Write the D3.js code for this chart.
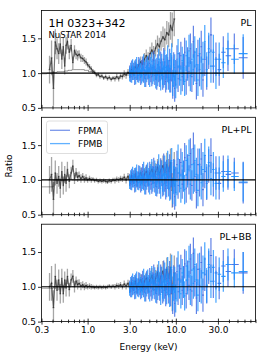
<!DOCTYPE html>
<html>
<head>
<meta charset="utf-8">
<script src="https://cdn.jsdelivr.net/npm/d3@7"></script>
<style>
  body { margin: 0; background: #fff; }
  svg { display: block; font-family: "DejaVu Sans", sans-serif; }
</style>
</head>
<body>
<div class="vis"></div>
<script>
(function() {
  'use strict';

  // panel labels and axis ticks
  var models = ['PL', 'PL+PL', 'PL+BB'];
  var xTicks = [0.3, 1, 3, 10, 30];
  var xTickLabels = ['0.3', '1.0', '3.0', '10.0', '30.0'];
  var xMinor = [0.4, 0.5, 0.6, 0.7, 0.8, 0.9, 2, 4, 5, 6, 7, 8, 9, 20, 40, 50, 60, 70, 80];
  var yTicks = [0.5, 1.0, 1.5];

  // soft X-ray thin trace
  var thinE = [0.3, 0.33, 0.36, 0.39, 0.43, 0.47, 0.52, 0.57, 0.63, 0.7, 0.78, 0.87, 0.97, 1.08, 1.2];
  var thinPL = [0.99, 0.99, 1.0, 1.0, 1.01, 1.02, 1.02, 1.03, 1.04, 1.05, 1.05, 1.05, 1.04, 1.02, 1.0];
  var thinPLPL = [0.9, 0.9, 0.9, 0.9, 1.0, 1.0, 0.99, 1.0, 1.01, 1.0, 1.0, 1.0, 1.0, 1.0, 1.0];
  var thinPLBB = [0.98, 0.98, 0.98, 0.98, 1.0, 1.0, 1.0, 1.0, 1.0, 1.0, 1.0, 1.0, 1.0, 1.0, 1.0];

  // soft X-ray (black) ratios
  var xmmE = [0.37, 0.39, 0.41, 0.43, 0.45, 0.47, 0.49, 0.51, 0.53, 0.55, 0.57, 0.59,
    0.62, 0.65, 0.68, 0.71, 0.74, 0.77, 0.80,
    0.84, 0.88, 0.92, 0.96, 1.0,
    1.05, 1.1, 1.15, 1.2, 1.26, 1.32, 1.38, 1.45, 1.52, 1.6,
    1.68, 1.76, 1.85, 1.94, 2.04, 2.14, 2.25, 2.36, 2.48, 2.6,
    2.73, 2.87, 3.0, 3.15, 3.3, 3.46, 3.63, 3.81, 4.0, 4.2,
    4.4, 4.62, 4.85, 5.1, 5.35, 5.6, 5.9, 6.2, 6.5, 6.8,
    7.15, 7.5, 7.9, 8.3, 8.7, 9.1, 9.6];
  var xmmErr = [0.2, 0.25, 0.25, 0.18, 0.15, 0.15, 0.14, 0.14, 0.13, 0.12, 0.12, 0.11,
    0.1, 0.09, 0.09, 0.08, 0.07, 0.07, 0.06,
    0.06, 0.05, 0.05, 0.05, 0.04,
    0.04, 0.04, 0.03, 0.03, 0.03, 0.03, 0.03, 0.03, 0.03, 0.03,
    0.03, 0.03, 0.03, 0.03, 0.04, 0.04, 0.04, 0.04, 0.04, 0.05,
    0.05, 0.05, 0.06, 0.06, 0.06, 0.07, 0.07, 0.07, 0.08, 0.08,
    0.09, 0.09, 0.1, 0.1, 0.11, 0.11, 0.12, 0.12, 0.13, 0.14,
    0.15, 0.16, 0.17, 0.18, 0.2, 0.25, 0.25];
  var xmmPL = [1.05, 1.22, 0.78, 1.45, 1.35, 1.28, 1.42, 1.2, 1.38, 1.1, 1.4, 1.45,
    1.3, 1.4, 1.15, 1.32, 1.27, 1.25, 1.27,
    1.22, 1.21, 1.18, 1.16, 1.12,
    1.09, 1.06, 1.03, 1.01, 0.97, 0.98, 0.95, 0.96, 0.93, 0.95,
    0.92, 0.94, 0.91, 0.93, 0.92, 0.95, 0.92, 0.96, 0.95, 0.99,
    0.97, 1.01, 0.99, 1.05, 1.03, 1.09, 1.06, 1.12, 1.16, 1.12,
    1.2, 1.25, 1.2, 1.28, 1.33, 1.28, 1.36, 1.42, 1.38, 1.46,
    1.52, 1.48, 1.58, 1.55, 1.68, 1.62, 1.78];
  var xmmPLPL = [1.0, 1.08, 0.72, 1.1, 0.95, 1.05, 0.88, 1.12, 0.92, 1.08, 0.95, 1.15,
    0.98, 1.1, 1.2, 1.02, 1.1, 1.04, 1.06,
    1.02, 1.05, 1.01, 1.03, 1.0,
    1.02, 1.0, 1.01, 0.99, 1.0, 0.98, 0.99, 0.98, 0.99, 0.98,
    0.97, 0.99, 0.98, 1.0, 0.99, 1.01, 1.0, 1.02, 1.01, 1.04,
    1.0, 1.05, 0.98, 1.06, 1.0, 1.08, 0.98, 1.05, 1.1, 1.0,
    1.08, 1.12, 1.02, 1.1, 1.15, 1.05, 1.12, 1.18, 1.08, 1.15,
    1.2, 1.1, 1.22, 1.12, 1.25, 0.85, 1.15];
  var xmmPLBB = [1.0, 1.05, 0.7, 1.15, 0.95, 1.1, 0.9, 1.12, 0.9, 1.1, 0.98, 1.15,
    0.96, 1.1, 1.15, 1.0, 1.08, 1.03, 1.05,
    1.01, 1.03, 1.0, 1.02, 1.0,
    1.01, 1.0, 1.0, 0.99, 1.0, 0.99, 1.0, 0.99, 1.0, 0.99,
    1.0, 1.01, 1.0, 1.01, 1.0, 1.02, 1.01, 1.03, 1.0, 1.04,
    1.01, 1.05, 0.98, 1.06, 1.0, 1.08, 0.98, 1.06, 1.1, 1.0,
    1.08, 1.12, 1.03, 1.1, 1.16, 1.05, 1.12, 1.2, 1.08, 1.15,
    1.22, 1.1, 1.25, 1.12, 1.28, 0.9, 1.2];

  // NuSTAR ratios
  var nuE = [3.0, 3.08, 3.16, 3.24, 3.33, 3.42, 3.51, 3.6, 3.7, 3.8,
    3.9, 4.0, 4.1, 4.21, 4.32, 4.44, 4.56, 4.68, 4.8, 4.93,
    5.06, 5.2, 5.34, 5.48, 5.62, 5.77, 5.92, 6.08, 6.24, 6.4,
    6.57, 6.74, 6.92, 7.1, 7.29, 7.48, 7.68, 7.88, 8.09, 8.3,
    8.52, 8.75, 8.98, 9.22, 9.46, 9.71, 9.97, 10.3, 10.6, 11.0,
    11.4, 11.8, 12.2, 12.6, 13.1, 13.6, 14.1, 14.6, 15.2, 15.8,
    16.4, 17.1, 17.8, 18.6, 19.4, 20.3, 21.3, 22.4, 23.6, 25.0,
    26.6, 28.5, 31.0, 34.5, 39.0, 46.0, 58.0];
  var errA = [0.09, 0.09, 0.1, 0.09, 0.1, 0.1, 0.1, 0.11, 0.1, 0.11,
    0.11, 0.11, 0.12, 0.11, 0.12, 0.12, 0.12, 0.13, 0.12, 0.13,
    0.13, 0.13, 0.14, 0.13, 0.14, 0.14, 0.15, 0.14, 0.15, 0.15,
    0.15, 0.16, 0.15, 0.16, 0.16, 0.17, 0.16, 0.17, 0.17, 0.18,
    0.17, 0.18, 0.18, 0.19, 0.18, 0.19, 0.19, 0.2, 0.19, 0.2,
    0.2, 0.21, 0.2, 0.21, 0.21, 0.22, 0.21, 0.22, 0.22, 0.23,
    0.22, 0.23, 0.23, 0.24, 0.23, 0.24, 0.24, 0.24, 0.24, 0.25,
    0.24, 0.24, 0.23, 0.23, 0.22, 0.22, 0.3];
  var errB = [0.1, 0.09, 0.09, 0.1, 0.1, 0.11, 0.1, 0.1, 0.11, 0.11,
    0.12, 0.11, 0.11, 0.12, 0.12, 0.13, 0.12, 0.12, 0.13, 0.13,
    0.14, 0.13, 0.13, 0.14, 0.15, 0.14, 0.14, 0.15, 0.16, 0.15,
    0.16, 0.15, 0.16, 0.17, 0.16, 0.17, 0.18, 0.17, 0.18, 0.17,
    0.18, 0.19, 0.18, 0.19, 0.2, 0.19, 0.2, 0.2, 0.21, 0.2,
    0.21, 0.2, 0.22, 0.21, 0.22, 0.21, 0.23, 0.22, 0.23, 0.22,
    0.23, 0.24, 0.23, 0.23, 0.24, 0.25, 0.24, 0.25, 0.23, 0.24,
    0.25, 0.23, 0.24, 0.22, 0.23, 0.21, 0.28];
  var fpmaPL = [1.02, 0.96, 1.08, 0.99, 1.05, 0.93, 1.1, 1.01, 0.97, 1.12,
    1.0, 0.94, 1.07, 1.13, 0.98, 1.04, 0.92, 1.1, 1.03, 0.96,
    1.14, 1.0, 0.95, 1.08, 1.18, 0.97, 1.05, 0.9, 1.12, 1.02,
    0.95, 1.15, 1.06, 0.92, 1.2, 1.0, 0.88, 1.1, 1.04, 0.94,
    1.18, 0.9, 1.06, 0.82, 1.12, 0.78, 1.0, 1.2, 0.92, 1.1,
    1.25, 0.95, 1.08, 1.3, 0.9, 1.15, 1.02, 1.35, 0.95, 1.45,
    1.1, 0.85, 1.25, 1.05, 1.38, 0.9, 1.2, 1.0, 1.3, 1.55,
    1.1, 1.2, 1.05, 1.3, 1.25, 1.35, 1.22];
  var fpmbPL = [0.98, 1.06, 0.95, 1.1, 1.0, 1.07, 0.94, 1.13, 1.02, 0.97,
    1.09, 1.04, 0.96, 1.0, 1.15, 0.93, 1.08, 0.99, 1.12, 1.05,
    0.94, 1.1, 1.17, 0.98, 1.03, 1.13, 0.92, 1.07, 0.97, 1.2,
    1.05, 0.9, 1.12, 1.0, 0.95, 1.16, 1.08, 0.93, 1.22, 1.02,
    0.9, 1.1, 1.25, 0.86, 1.0, 1.08, 0.84, 0.98, 1.28, 1.02,
    0.9, 1.18, 1.05, 0.88, 1.25, 1.1, 1.32, 0.96, 1.2, 1.05,
    1.3, 1.12, 0.9, 1.28, 1.0, 1.2, 1.45, 1.05, 1.35, 1.1,
    1.3, 1.0, 1.2, 1.15, 1.35, 1.2, 1.28];
  var fpmaPLPL = [1.0, 0.95, 1.06, 0.98, 1.04, 0.92, 1.08, 1.0, 0.96, 1.1,
    0.99, 0.93, 1.06, 1.12, 0.97, 1.03, 0.91, 1.09, 1.02, 0.95,
    1.13, 0.99, 0.94, 1.07, 1.18, 0.96, 1.05, 0.9, 1.12, 1.02,
    0.95, 1.15, 1.06, 0.92, 1.22, 1.0, 0.88, 1.12, 1.04, 0.94,
    1.2, 0.9, 1.08, 0.8, 1.12, 0.76, 1.0, 1.22, 0.92, 1.1,
    1.25, 0.94, 1.08, 1.32, 0.88, 1.15, 1.0, 1.38, 0.92, 1.45,
    1.05, 0.82, 1.22, 1.0, 1.3, 0.86, 1.12, 0.95, 1.2, 1.35,
    1.0, 1.1, 0.95, 1.12, 1.08, 1.1, 0.96];
  var fpmbPLPL = [0.97, 1.05, 0.94, 1.09, 0.99, 1.06, 0.93, 1.12, 1.01, 0.96,
    1.08, 1.03, 0.95, 0.99, 1.14, 0.92, 1.07, 0.98, 1.12, 1.04,
    0.93, 1.1, 1.17, 0.97, 1.03, 1.14, 0.91, 1.08, 0.96, 1.22,
    1.05, 0.88, 1.12, 1.0, 0.94, 1.18, 1.08, 0.92, 1.24, 1.02,
    0.88, 1.1, 1.28, 0.84, 1.0, 1.1, 0.82, 0.98, 1.3, 1.02,
    0.88, 1.2, 1.05, 0.86, 1.28, 1.1, 1.35, 0.94, 1.22, 1.02,
    1.28, 1.08, 0.85, 1.22, 0.96, 1.15, 1.35, 0.98, 1.25, 1.02,
    1.15, 0.95, 1.1, 1.05, 1.12, 1.05, 0.97];
  var fpmaPLBB = [1.0, 0.94, 1.06, 0.97, 1.04, 0.92, 1.09, 1.0, 0.96, 1.1,
    0.99, 0.93, 1.06, 1.12, 0.97, 1.04, 0.91, 1.1, 1.02, 0.95,
    1.14, 0.99, 0.94, 1.08, 1.18, 0.96, 1.05, 0.9, 1.13, 1.02,
    0.95, 1.16, 1.06, 0.92, 1.22, 1.0, 0.88, 1.12, 1.05, 0.94,
    1.2, 0.9, 1.08, 0.8, 1.13, 0.76, 1.02, 1.22, 0.93, 1.12,
    1.26, 0.95, 1.1, 1.33, 0.9, 1.16, 1.02, 1.4, 0.94, 1.48,
    1.08, 0.84, 1.25, 1.02, 1.35, 0.88, 1.18, 1.0, 1.28, 1.45,
    1.08, 1.2, 1.05, 1.3, 1.22, 1.32, 1.2];
  var fpmbPLBB = [0.97, 1.05, 0.94, 1.09, 0.99, 1.06, 0.93, 1.12, 1.01, 0.96,
    1.08, 1.03, 0.95, 1.0, 1.14, 0.92, 1.07, 0.98, 1.12, 1.04,
    0.93, 1.1, 1.17, 0.97, 1.03, 1.14, 0.91, 1.08, 0.97, 1.22,
    1.05, 0.89, 1.13, 1.0, 0.95, 1.18, 1.08, 0.92, 1.25, 1.02,
    0.89, 1.1, 1.28, 0.85, 1.0, 1.1, 0.83, 0.99, 1.3, 1.03,
    0.9, 1.2, 1.06, 0.87, 1.3, 1.1, 1.36, 0.96, 1.24, 1.05,
    1.32, 1.1, 0.88, 1.26, 1.0, 1.2, 1.4, 1.02, 1.32, 1.08,
    1.28, 1.0, 1.18, 1.15, 1.32, 1.2, 1.22];

  var thinSets = [thinPL, thinPLPL, thinPLBB];
  var xmmSets = [xmmPL, xmmPLPL, xmmPLBB];
  var fpmaSets = [fpmaPL, fpmaPLPL, fpmaPLBB];
  var fpmbSets = [fpmbPL, fpmbPLPL, fpmbPLBB];

  var W = 266, H = 358,
    left = 41.5, right = 255.5,
    tops = [10.5, 117.3, 224.2],
    ph = 97.4;

  var colA = '#4169e1', colB = '#1e90ff';

  var svg = d3.select('.vis').append('svg')
    .attr('width', W)
    .attr('height', H);

  var x = d3.scaleLog().domain([0.3, 80]).range([left, right]);

  // bin edges halfway (in log) between neighbouring energies
  function binEdges(E) {
    return E.map(function(e, i) {
      var lo = i > 0 ? Math.sqrt(E[i - 1] * e) : e / Math.sqrt(E[1] / e);
      var hi = i < E.length - 1 ? Math.sqrt(E[i + 1] * e) : e * Math.sqrt(e / E[i - 1]);
      return [lo, hi];
    });
  }

  function errorBars(g, y, E, vals, errs, color, op, sw, hop) {
    var ed = binEdges(E);
    var grp = g.append('g')
      .attr('stroke', color)
      .attr('stroke-width', sw)
      .attr('fill', 'none');
    grp.selectAll('.ev')
      .data(vals)
      .enter().append('line')
        .attr('class', 'ev')
        .attr('stroke-opacity', op)
        .attr('x1', function(d, i) { return x(E[i]); })
        .attr('x2', function(d, i) { return x(E[i]); })
        .attr('y1', function(d, i) { return y(d - errs[i]); })
        .attr('y2', function(d, i) { return y(d + errs[i]); });
    grp.selectAll('.eh')
      .data(vals)
      .enter().append('line')
        .attr('class', 'eh')
        .attr('stroke-opacity', hop)
        .attr('x1', function(d, i) { return x(ed[i][0]); })
        .attr('x2', function(d, i) { return x(ed[i][1]); })
        .attr('y1', function(d) { return y(d); })
        .attr('y2', function(d) { return y(d); });
  }

  models.forEach(function(name, p) {
    var top = tops[p];
    var y = d3.scaleLinear().domain([0.5, 1.9]).range([top + ph, top]);
    var g = svg.append('g');

    g.append('clipPath').attr('id', 'clip' + p)
      .append('rect')
        .attr('x', left).attr('y', top)
        .attr('width', right - left).attr('height', ph);

    var data = g.append('g').attr('clip-path', 'url(#clip' + p + ')');

    // thin soft trace
    data.append('path')
      .datum(thinSets[p])
      .attr('fill', 'none')
      .attr('stroke', '#000')
      .attr('stroke-opacity', 0.45)
      .attr('stroke-width', 0.9)
      .attr('d', d3.line()
        .curve(d3.curveStep)
        .x(function(d, i) { return x(thinE[i]); })
        .y(function(d) { return y(d); }));

    // black soft X-ray data
    errorBars(data, y, xmmE, xmmSets[p], xmmErr, '#000', 0.35, 1.3, 0.4);
    data.append('path')
      .datum(xmmSets[p])
      .attr('fill', 'none')
      .attr('stroke', '#000')
      .attr('stroke-opacity', 0.55)
      .attr('stroke-width', 1.2)
      .attr('d', d3.line()
        .x(function(d, i) { return x(xmmE[i]); })
        .y(function(d) { return y(d); }));

    // NuSTAR
    errorBars(data, y, nuE, fpmaSets[p], errA, colA, 0.9, 1.1, 0.9);
    errorBars(data, y, nuE, fpmbSets[p], errB, colB, 0.9, 1.1, 0.9);

    // unity line
    g.append('line')
      .attr('x1', left).attr('x2', right)
      .attr('y1', y(1)).attr('y2', y(1))
      .attr('stroke', '#000')
      .attr('stroke-width', 1.1);

    // frame
    g.append('rect')
      .attr('x', left).attr('y', top)
      .attr('width', right - left).attr('height', ph)
      .attr('fill', 'none')
      .attr('stroke', '#000')
      .attr('stroke-width', 0.8);

    // y axis
    var ya = g.append('g')
      .attr('transform', 'translate(' + left + ',0)')
      .call(d3.axisLeft(y).tickValues(yTicks).tickSize(3.5).tickPadding(2)
        .tickFormat(d3.format('.1f')));
    ya.select('.domain').remove();

    // x axis: major out, major+minor in
    var last = p === models.length - 1;
    var xa = g.append('g')
      .attr('transform', 'translate(0,' + (top + ph) + ')')
      .call(d3.axisBottom(x).tickValues(xTicks).tickSize(3).tickPadding(2.5)
        .tickFormat(function(d, i) { return last ? xTickLabels[i] : ''; }));
    xa.select('.domain').remove();
    var xin = g.append('g')
      .attr('transform', 'translate(0,' + (top + ph) + ')')
      .call(d3.axisTop(x).tickValues(xTicks).tickSize(3).tickFormat(''));
    xin.select('.domain').remove();
    var xm = g.append('g')
      .attr('transform', 'translate(0,' + (top + ph) + ')')
      .call(d3.axisTop(x).tickValues(xMinor).tickSize(2).tickFormat(''));
    xm.select('.domain').remove();
    var xmo = g.append('g')
      .attr('transform', 'translate(0,' + (top + ph) + ')')
      .call(d3.axisBottom(x).tickValues(xMinor).tickSize(1.5).tickFormat(''));
    xmo.select('.domain').remove();

    g.selectAll('.tick line').attr('stroke-width', 0.8);
    g.selectAll('.tick text')
      .attr('font-size', 9)
      .attr('font-family', '"DejaVu Sans", sans-serif')
      .attr('fill', '#000');

    // model label
    g.append('text')
      .attr('x', right - 4)
      .attr('y', top + 15.5)
      .attr('text-anchor', 'end')
      .attr('font-size', 9.5)
      .text(name);
  });

  // source name
  svg.append('text')
    .attr('x', 48.5).attr('y', 27)
    .attr('font-size', 11)
    .text('1H 0323+342');
  svg.append('text')
    .attr('x', 48.5).attr('y', 38)
    .attr('font-size', 8.5)
    .text('NuSTAR 2014');

  // legend
  var lg = svg.append('g');
  lg.append('rect')
    .attr('x', 46.5).attr('y', 121)
    .attr('width', 61).attr('height', 32.5)
    .attr('rx', 2.5)
    .attr('fill', '#fff').attr('fill-opacity', 0.8)
    .attr('stroke', '#d6d6d6').attr('stroke-width', 0.8);
  [['FPMA', colA, 130.3], ['FPMB', colB, 143.6]].forEach(function(it) {
    lg.append('line')
      .attr('x1', 50).attr('x2', 70)
      .attr('y1', it[2]).attr('y2', it[2])
      .attr('stroke', it[1]).attr('stroke-opacity', 0.7)
      .attr('stroke-width', 1.3);
    lg.append('text')
      .attr('x', 78).attr('y', it[2] + 3.2)
      .attr('font-size', 9)
      .text(it[0]);
  });

  // axis titles
  svg.append('text')
    .attr('transform', 'translate(12,' + (tops[1] + ph / 2) + ') rotate(-90)')
    .attr('text-anchor', 'middle')
    .attr('font-size', 9)
    .text('Ratio');
  svg.append('text')
    .attr('x', (left + right) / 2).attr('y', 350)
    .attr('text-anchor', 'middle')
    .attr('font-size', 9)
    .text('Energy (keV)');
}());
</script>
</body>
</html>
